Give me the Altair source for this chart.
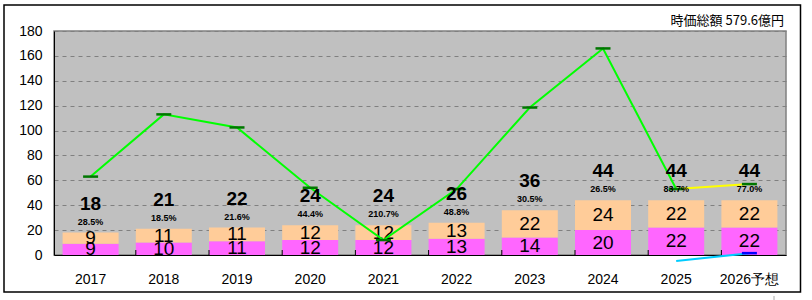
import altair as alt
import pandas as pd

years = ["2017", "2018", "2019", "2020", "2021", "2022", "2023", "2024", "2025", "2026予想"]
lower = [9, 10, 11, 12, 12, 13, 14, 20, 22, 22]
upper = [9, 11, 11, 12, 12, 13, 22, 24, 22, 22]
pct = ["28.5%", "18.5%", "21.6%", "44.4%", "210.7%", "48.8%", "30.5%", "26.5%", "83.7%", "77.0%"]
line_vals = [63, 113, 102.5, 54, 12, 53, 118.5, 166, 53, 57]
cyan_years = ["2025", "2026予想"]
cyan_vals = [-4.8, 1.5]
title_text = "時価総額  579.6億円"

totals = [a + b for a, b in zip(lower, upper)]
df = pd.DataFrame({
    "year": years,
    "lower": lower,
    "upper": upper,
    "total": totals,
    "pct": pct,
    "line": line_vals,
    "lower_mid": [a / 2 for a in lower],
    "upper_mid": [a + b / 2 for a, b in zip(lower, upper)],
})
green_df = df.iloc[:9]
yellow_df = df.iloc[8:]
cyan_df = pd.DataFrame({"year": cyan_years, "v": cyan_vals})
tick_df = pd.DataFrame({"year": years[1:]})
one = pd.DataFrame({"a": [0]})

FONT = "Liberation Sans"
xs = alt.Scale(domain=years, paddingInner=0.235, paddingOuter=0.1175)
ys = alt.Scale(domain=[0, 180], nice=False)

x_axis = alt.Axis(labelAngle=0, ticks=False, domainColor="black", labelPadding=17,
                  labelFontSize=14, labelFont=FONT, labelColor="black",
                  labelFontWeight="normal", grid=False)
y_axis = alt.Axis(values=list(range(0, 181, 20)), grid=True, gridDash=[4, 4],
                  gridColor="#808080", gridOpacity=1, ticks=False, domainColor="black",
                  labelFontSize=14, labelFont=FONT, labelColor="black", labelPadding=12,
                  labelOverlap=False)


def X(**kw):
    return alt.X("year:N", scale=xs, sort=years, title=None, axis=x_axis, **kw)


def Y(field):
    return alt.Y(field, scale=ys, title=None, axis=y_axis)


base = alt.Chart(df)

bar_lower = base.mark_bar(color="#FF66FF", opacity=1).encode(x=X(), y=Y("lower:Q"), y2=alt.value(224))
bar_upper = base.mark_bar(color="#FFCC99", opacity=1).encode(x=X(), y=Y("total:Q"), y2="lower:Q")

seg_lo = base.mark_text(fontSize=19, font=FONT, color="black", baseline="middle").encode(
    x=X(), y=Y("lower_mid:Q"), text="lower:Q")
seg_hi = base.mark_text(fontSize=19, font=FONT, color="black", baseline="middle").encode(
    x=X(), y=Y("upper_mid:Q"), text="upper:Q")
tot = base.mark_text(fontSize=19, font=FONT, color="black", baseline="middle", dy=-29,
                     fontWeight="bold").encode(x=X(), y=Y("total:Q"), text="total:Q")
pc = base.mark_text(fontSize=9, font=FONT, color="black", baseline="middle", dy=-11,
                    fontWeight="bold").encode(x=X(), y=Y("total:Q"), text="pct:N")

xticks = alt.Chart(tick_df).mark_rule(color="black", strokeWidth=1).encode(
    x=X(bandPosition=0), y=alt.value(224), y2=alt.value(219))

green = alt.Chart(green_df).mark_line(color="#00FF00", strokeWidth=2).encode(x=X(), y=Y("line:Q"))
yellow = alt.Chart(yellow_df).mark_line(color="#FFFF00", strokeWidth=2).encode(x=X(), y=Y("line:Q"))
gticks = base.mark_tick(color="#007700", size=15, thickness=2.5, opacity=1).encode(x=X(), y=Y("line:Q"))
cyan = alt.Chart(cyan_df).mark_line(color="#00CCFF", strokeWidth=2).encode(x=X(), y=Y("v:Q"))
bticks = alt.Chart(cyan_df.iloc[1:]).mark_tick(color="#0000FF", size=15, thickness=2.5, opacity=1).encode(
    x=X(), y=Y("v:Q"))

title = alt.Chart(one).mark_text(text=title_text, fontSize=13, font="Noto Sans CJK JP",
                                 align="right", baseline="middle", color="black").encode(
    x=alt.value(730), y=alt.value(-10))
border = alt.Chart(one).mark_rect(fillOpacity=0, stroke="black", strokeWidth=1.5).encode(
    x=alt.value(-50), x2=alt.value(746.5), y=alt.value(-26), y2=alt.value(261))
mark = alt.Chart(one).mark_rule(color="#AAAAAA").encode(
    x=alt.value(720), y=alt.value(265), y2=alt.value(269))

chart = alt.layer(
    bar_lower, bar_upper, xticks, seg_lo, seg_hi, green, yellow, cyan, gticks, bticks, tot, pc,
    title, border, mark
).properties(
    width=732, height=224,
    autosize=alt.AutoSizeParams(type="none"),
    padding={"left": 54, "top": 31, "right": 26, "bottom": 45},
    background="white",
).configure_view(stroke="#808080", fill="#C0C0C0", strokeWidth=1.5)

chart.save("out.html", embed_options={"renderer": "svg", "actions": False})
